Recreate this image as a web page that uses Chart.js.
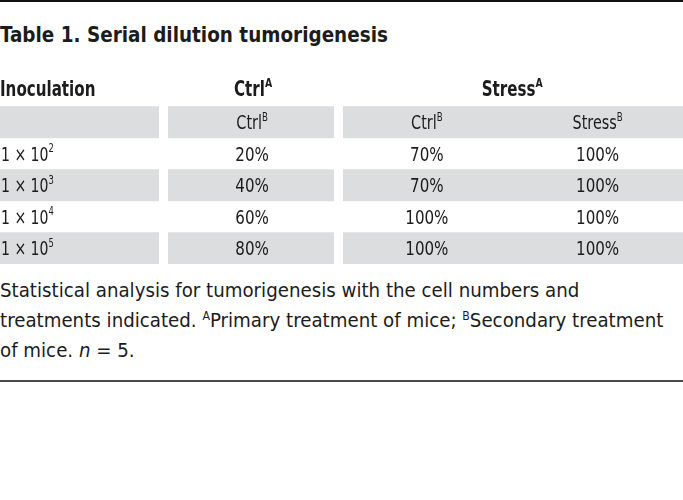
<!DOCTYPE html>
<html>
<head>
<meta charset="utf-8">
<script src="https://cdn.jsdelivr.net/npm/chart.js@4.4.1/dist/chart.umd.min.js"></script>
<style>
  html, body { margin: 0; padding: 0; background: #fff; }
  body { width: 683px; height: 500px; position: relative; overflow: hidden;
    font-family: 'Liberation Sans Narrow', 'DejaVu Sans Condensed', 'Roboto Condensed', Roboto, sans-serif; color: #1c1c1c; }
  .rule-top { position: absolute; left: 0; top: 0; width: 683px; height: 2px; background: #111; }
  .title { position: absolute; left: 0; top: 20px; line-height: 30px; font-size: 22px; font-weight: bold; white-space: nowrap;
    transform: scaleX(0.93); transform-origin: 0 50%; }
  .wrap { position: absolute; left: 0; top: 75px; width: 683px; height: 189px; }
  .caption { position: absolute; left: 0; top: 275px; line-height: 30px; font-size: 20px; white-space: nowrap;
    transform: scaleX(1.012); transform-origin: 0 50%; }
  .caption sup { font-size: 12px; vertical-align: 7px; line-height: 0; }
  .rule-bottom { position: absolute; left: 0; top: 380px; width: 683px; height: 2px; background: #4a4a4a; }
</style>
</head>
<body>
<div class="rule-top"></div>
<div class="title">Table 1. Serial dilution tumorigenesis</div>
<div class="wrap"><canvas id="tbl"></canvas></div>
<div class="caption">Statistical analysis for tumorigenesis with the cell numbers and<br>treatments indicated. <sup>A</sup>Primary treatment of mice; <sup>B</sup>Secondary treatment<br>of mice. <i>n</i> = 5.</div>
<div class="rule-bottom"></div>
<script>
const FONT = "'Liberation Sans Narrow', 'DejaVu Sans Condensed', 'Roboto Condensed', Roboto, sans-serif";
const INK = '#1c1c1c';
const SHADE = '#dcddde';

// table content
const rowLabel = 'Inoculation';
const groups = ['Ctrl', 'Stress'];          // primary treatment (sup A)
const subCols = ['Ctrl', 'Ctrl', 'Stress']; // secondary treatment (sup B)
const doseExp = [2, 3, 4, 5];               // 1 x 10^n cells
const ctrlCtrl = [20, 40, 60, 80];
const stressCtrl = [70, 70, 100, 100];
const stressStress = [100, 100, 100, 100];

const rows = ['group', 'sub'].concat(doseExp.map((e) => '1e' + e));
// every other row from the sub header down is shaded
const shade = rows.map((r, i) => (i % 2 === 1 ? [0, 4] : null));

// text with optional superscript parts, squeezed horizontally by sx
function drawRich(ctx, parts, x, y, align, size, bold, sx) {
  const w = bold ? 'bold ' : '';
  const supSize = Math.round(size * 0.6);
  let total = 0;
  parts.forEach((p) => {
    ctx.font = w + (p.sup ? supSize : size) + 'px ' + FONT;
    p.w = ctx.measureText(p.t).width;
    total += p.w;
  });
  const x0 = align === 'center' ? x - (total * sx) / 2 : x;
  ctx.save();
  ctx.translate(x0, 0);
  ctx.scale(sx, 1);
  ctx.textAlign = 'left';
  ctx.textBaseline = 'alphabetic';
  let cx = 0;
  parts.forEach((p) => {
    ctx.font = w + (p.sup ? supSize : size) + 'px ' + FONT;
    ctx.fillText(p.t, cx, p.sup ? y - size * 0.42 : y);
    cx += p.w;
  });
  ctx.restore();
}

const cellText = {
  id: 'cellText',
  afterDraw(chart) {
    const { ctx, scales } = chart;
    const x = scales.x, y = scales.y;
    ctx.save();
    ctx.fillStyle = INK;
    const base = (i) => y.getPixelForValue(i) + 7;
    // group header
    const gy = base(0) - 2;
    drawRich(ctx, [{ t: rowLabel }], x.getPixelForValue(0), gy, 'left', 21, true, 0.8);
    drawRich(ctx, [{ t: groups[0] }, { t: 'A', sup: true }], x.getPixelForValue(1.5) - 3, gy, 'center', 21, true, 0.8);
    drawRich(ctx, [{ t: groups[1] }, { t: 'A', sup: true }], x.getPixelForValue(3), gy, 'center', 21, true, 0.8);
    // sub header
    subCols.forEach((s, c) => {
      drawRich(ctx, [{ t: s }, { t: 'B', sup: true }], x.getPixelForValue(c + 1.5) - (c === 0 ? 4 : 0), base(1), 'center', 20, false, 0.8);
    });
    // body
    const cols = [ctrlCtrl, stressCtrl, stressStress];
    doseExp.forEach((e, r) => {
      const yy = base(r + 2);
      drawRich(ctx, [{ t: '1 × 10' }, { t: String(e), sup: true }], x.getPixelForValue(0) + 1, yy, 'left', 20, false, 0.78);
      cols.forEach((col, c) => {
        drawRich(ctx, [{ t: col[r] + '%' }], x.getPixelForValue(c + 1.5) - (c === 0 ? 4 : 0), yy, 'center', 20, false, 0.84);
      });
    });
    ctx.restore();
  },
};

new Chart(document.getElementById('tbl'), {
  type: 'bar',
  data: {
    labels: rows,
    datasets: [{
      data: shade,
      backgroundColor: SHADE,
      borderWidth: 0,
      categoryPercentage: 1,
      barPercentage: 1,
    }],
  },
  options: {
    indexAxis: 'y',
    responsive: true,
    maintainAspectRatio: false,
    animation: false,
    layout: { padding: 0 },
    plugins: { legend: { display: false }, tooltip: { enabled: false } },
    scales: {
      x: {
        type: 'linear', min: 0, max: 4,
        // white gutters between the column blocks
        afterBuildTicks: (s) => { s.ticks = [{ value: 0.955 }, { value: 1.98 }]; },
        ticks: { display: false },
        border: { display: false },
        grid: { color: '#fff', lineWidth: 9, z: 1, drawTicks: false, tickLength: 0 },
      },
      y: { display: false, offset: true },
    },
  },
  plugins: [cellText],
});
</script>
</body>
</html>
